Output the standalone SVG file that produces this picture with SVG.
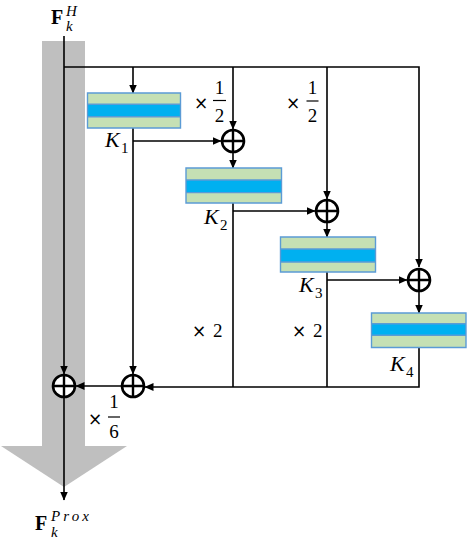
<svg xmlns="http://www.w3.org/2000/svg" width="470" height="540" viewBox="0 0 470 540">
<style>
.ln{fill:none;stroke:#000;stroke-width:1.6}
.add circle{fill:#fff;stroke:#000;stroke-width:2.6}
.add path{stroke:#000;stroke-width:2.4}
.g{fill:#c5e0b4}
.b{fill:#00b0f0}
.fr{fill:none;stroke:#5b9bd5;stroke-width:1.4}
text{font-family:"Liberation Serif","DejaVu Serif",serif;fill:#000}
.it{font-style:italic}
.m{font-size:22px}
.s{font-size:15px}
.x{font-family:"DejaVu Sans","Liberation Sans",sans-serif;font-size:17px;fill:#000}
.d{font-size:19px}
</style>
<defs>
<marker id="ah" markerWidth="9" markerHeight="8" refX="8.5" refY="4" orient="auto" markerUnits="userSpaceOnUse">
<path d="M0,0 L9,4 L0,8 z" fill="#000"/>
</marker>
</defs>
<g id="backbone">
<rect x="42" y="41" width="43" height="406" fill="#bfbfbf"/>
<polygon points="1,446 127,446 64,487" fill="#bfbfbf"/>
</g>
<g id="connectors">
<path class="ln" d="M64,67 H419 V267" marker-end="url(#ah)"/>
<path class="ln" d="M133,67 V93" marker-end="url(#ah)"/>
<path class="ln" d="M233,67 V129" marker-end="url(#ah)"/>
<path class="ln" d="M327,67 V199" marker-end="url(#ah)"/>
<path class="ln" d="M133,141 H221" marker-end="url(#ah)"/>
<path class="ln" d="M133,128 V374" marker-end="url(#ah)"/>
<path class="ln" d="M233,153 V168" marker-end="url(#ah)"/>
<path class="ln" d="M233,203 V387"/>
<path class="ln" d="M233,211 H315" marker-end="url(#ah)"/>
<path class="ln" d="M327,223 V237" marker-end="url(#ah)"/>
<path class="ln" d="M327,272 V387"/>
<path class="ln" d="M327,280 H407" marker-end="url(#ah)"/>
<path class="ln" d="M419,291 V313" marker-end="url(#ah)"/>
<path class="ln" d="M419,347 V387 H145" marker-end="url(#ah)"/>
<path class="ln" d="M121,386 H76" marker-end="url(#ah)"/>
<path class="ln" d="M64,36 V374" marker-end="url(#ah)"/>
<path class="ln" d="M64,398 V500" marker-end="url(#ah)"/>
</g>
<g id="K1">
<rect class="g" x="87.5" y="93" width="93" height="35"/>
<rect class="b" x="87.5" y="104.3" width="93" height="12.4"/>
<path class="fr" d="M87.5,93 h93 v35 h-93 z M87.5,104.3 h93 M87.5,116.7 h93"/>
<text x="105" y="147" class="it m">K</text><text x="121" y="153" class="s">1</text>
</g>
<g id="K2">
<rect class="g" x="186" y="168" width="95.5" height="35"/>
<rect class="b" x="186" y="180" width="95.5" height="12.6"/>
<path class="fr" d="M186,168 h95.5 v35 h-95.5 z M186,180 h95.5 M186,192.6 h95.5"/>
<text x="204" y="224" class="it m">K</text><text x="220" y="230" class="s">2</text>
</g>
<g id="K3">
<rect class="g" x="280.5" y="237" width="95" height="35"/>
<rect class="b" x="280.5" y="249" width="95" height="13"/>
<path class="fr" d="M280.5,237 h95 v35 h-95 z M280.5,249 h95 M280.5,262 h95"/>
<text x="299" y="292" class="it m">K</text><text x="315" y="298" class="s">3</text>
</g>
<g id="K4">
<rect class="g" x="371.5" y="313" width="94.5" height="34.5"/>
<rect class="b" x="371.5" y="323.7" width="94.5" height="11.6"/>
<path class="fr" d="M371.5,313 h94.5 v34.5 h-94.5 z M371.5,323.7 h94.5 M371.5,335.3 h94.5"/>
<text x="390" y="371" class="it m">K</text><text x="406" y="377" class="s">4</text>
</g>
<g id="add1" class="add"><circle cx="233" cy="141" r="11"/><path d="M222,141 H244 M233,130 V152"/></g>
<g id="add2" class="add"><circle cx="327" cy="211" r="11"/><path d="M316,211 H338 M327,200 V222"/></g>
<g id="add3" class="add"><circle cx="419" cy="280" r="11"/><path d="M408,280 H430 M419,269 V291"/></g>
<g id="add4" class="add"><circle cx="133" cy="386" r="11"/><path d="M122,386 H144 M133,375 V397"/></g>
<g id="add5" class="add"><circle cx="64" cy="386" r="11"/><path d="M53,386 H75 M64,375 V397"/></g>
<g id="labels">
<text x="194" y="109" class="x">×</text>
<text x="219.5" y="94" class="d" text-anchor="middle">1</text>
<path d="M213,100.5 H226" stroke="#000" stroke-width="1.2"/>
<text x="219.5" y="122" class="d" text-anchor="middle">2</text>
<text x="286" y="109" class="x">×</text>
<text x="312.5" y="94" class="d" text-anchor="middle">1</text>
<path d="M306.5,101 H318.5" stroke="#000" stroke-width="1.2"/>
<text x="312.5" y="122" class="d" text-anchor="middle">2</text>
<text x="192" y="337" class="x">×</text><text x="213" y="337" class="d">2</text>
<text x="292" y="337" class="x">×</text><text x="313" y="337" class="d">2</text>
<text x="88" y="425" class="x">×</text>
<text x="114" y="408" class="d" text-anchor="middle">1</text>
<path d="M108,417 H120" stroke="#000" stroke-width="1.2"/>
<text x="114" y="438" class="d" text-anchor="middle">6</text>
<text x="51" y="24" font-size="20" font-weight="bold">F</text>
<text x="66" y="16" class="it" font-size="15">H</text>
<text x="66" y="31" class="it" font-size="15">k</text>
<text x="35" y="530" font-size="20" font-weight="bold">F</text>
<text x="51" y="521" class="it" font-size="15" textLength="38" lengthAdjust="spacing">Prox</text>
<text x="51" y="537" class="it" font-size="15">k</text>
</g>
</svg>
